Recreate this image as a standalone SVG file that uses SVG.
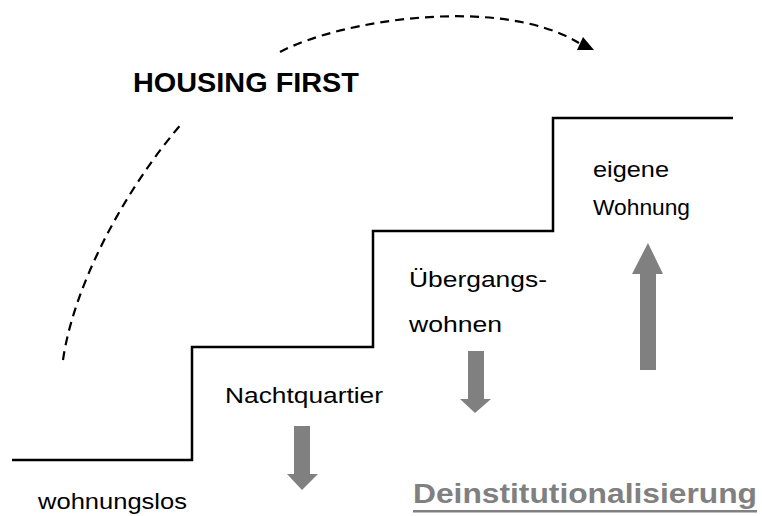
<svg xmlns="http://www.w3.org/2000/svg" width="762" height="516" viewBox="0 0 762 516">
<style>
.t{font-family:"Liberation Sans",Arial,sans-serif;font-size:22px;fill:#000}
.b{font-family:"Liberation Sans",Arial,sans-serif;font-weight:bold}
.dash{fill:none;stroke:#000;stroke-width:2.2;stroke-dasharray:9 6}
.stair{fill:none;stroke:#000;stroke-width:2.5}
.gray{fill:#808080}
</style>
<rect width="762" height="516" fill="#fff"/>
<g id="stairs">
<path class="stair" d="M12 460 H192 V347 H373 V231 H553 V118 H733"/>
</g>
<g id="connectors">
<path class="dash" d="M63 360 C73 290 120 195 183 122"/>
<path class="dash" d="M280 52 C340 20 500 -5 579 43"/>
<polygon points="594,50 583,37 577,50" fill="#000"/>
</g>
<g id="housing-first">
<text class="b" x="133" y="92" font-size="27" textLength="226" lengthAdjust="spacingAndGlyphs">HOUSING FIRST</text>
</g>
<g id="wohnungslos">
<text class="t" x="38" y="509" textLength="149" lengthAdjust="spacingAndGlyphs">wohnungslos</text>
</g>
<g id="nachtquartier">
<text class="t" x="225" y="403" textLength="158" lengthAdjust="spacingAndGlyphs">Nachtquartier</text>
<polygon class="gray" points="294,426 310,426 310,474 318,474 302,490 287,474 294,474"/>
</g>
<g id="uebergangswohnen">
<text class="t" x="409" y="287" textLength="138" lengthAdjust="spacingAndGlyphs">Übergangs-</text>
<text class="t" x="409" y="332" textLength="93" lengthAdjust="spacingAndGlyphs">wohnen</text>
<polygon class="gray" points="468,351 484,351 484,399 491,399 475,413 460,399 468,399"/>
</g>
<g id="eigene-wohnung">
<text class="t" x="593" y="177" textLength="76" lengthAdjust="spacingAndGlyphs">eigene</text>
<text class="t" x="593" y="215" font-size="20" textLength="97" lengthAdjust="spacingAndGlyphs">Wohnung</text>
<polygon class="gray" points="640,370 656,370 656,274 663,274 648,243 632,274 640,274"/>
</g>
<g id="deinstitutionalisierung">
<text class="b gray" x="413" y="503" font-size="28" textLength="344" lengthAdjust="spacingAndGlyphs">Deinstitutionalisierung</text>
<rect class="gray" x="413" y="510" width="344" height="2.5"/>
</g>
</svg>
